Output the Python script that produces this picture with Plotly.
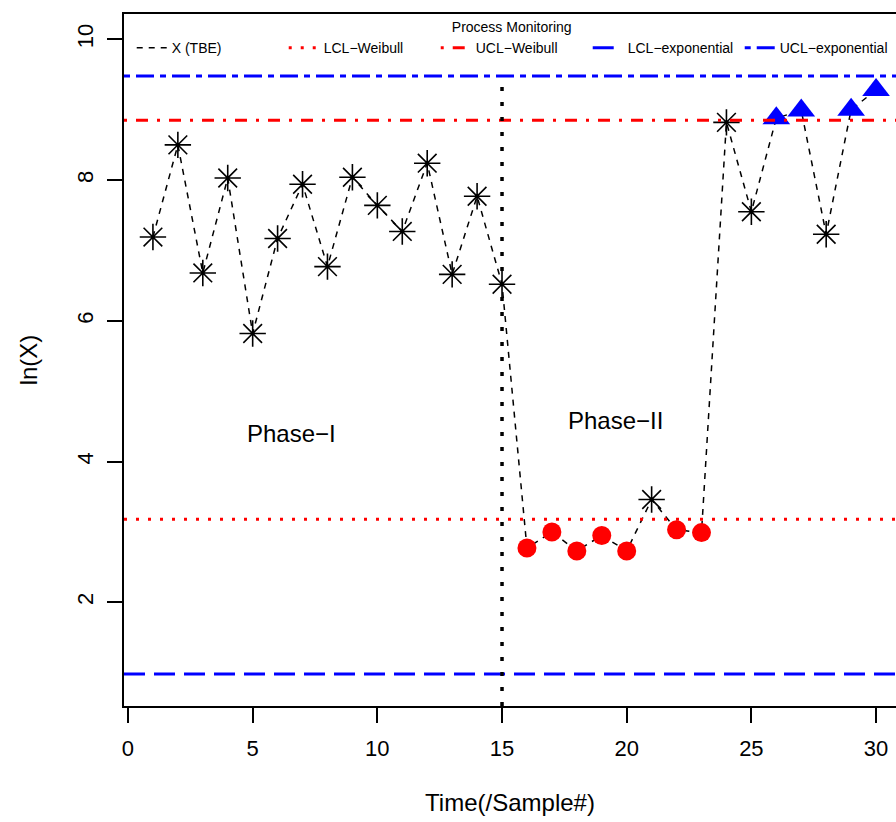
import plotly.graph_objects as go

# Sample index and log time-between-events values
sample = list(range(1, 31))
ln_x = [7.19, 8.50, 6.68, 8.03, 5.82, 7.17, 7.94, 6.77, 8.04, 7.64,
        7.27, 8.24, 6.66, 7.77, 6.52, 2.77, 3.00, 2.73, 2.95, 2.73,
        3.46, 3.03, 2.99, 8.82, 7.55, 8.88, 8.99, 7.23, 9.00, 9.28]

# Control limits
lcl_weibull = 3.18
ucl_weibull = 8.85
lcl_exponential = 0.98
ucl_exponential = 9.48

phase_split = 15
x_ticks = [0, 5, 10, 15, 20, 25, 30]
y_ticks = [2, 4, 6, 8, 10]
X_RANGE = [-0.16, 30.80]
Y_RANGE = [0.526, 10.36]

FONT = "Liberation Sans, Arial, Helvetica, sans-serif"

fig = go.Figure()

# Connecting dashed line (legend entry for the statistic)
fig.add_trace(go.Scatter(
    x=sample, y=ln_x, mode="lines", name="X (TBE)",
    line=dict(color="black", width=1.5, dash="6px,6px"),
))

# Classify points against the Weibull limits
low = [i for i, v in enumerate(ln_x) if v < lcl_weibull]
high = [i for i, v in enumerate(ln_x) if v > ucl_weibull]
mid = [i for i, v in enumerate(ln_x) if lcl_weibull <= v <= ucl_weibull]

fig.add_trace(go.Scatter(
    x=[sample[i] for i in mid], y=[ln_x[i] for i in mid], mode="markers",
    showlegend=False, hoverinfo="x+y",
    marker=dict(symbol="asterisk-open", size=22, color="black",
                line=dict(color="black", width=1.6)),
))
fig.add_trace(go.Scatter(
    x=[sample[i] for i in low], y=[ln_x[i] for i in low], mode="markers",
    showlegend=False,
    marker=dict(symbol="circle", size=19, color="#FF0000", line=dict(width=0)),
))
fig.add_trace(go.Scatter(
    x=[sample[i] for i in high], y=[ln_x[i] for i in high], mode="markers",
    showlegend=False,
    marker=dict(symbol="triangle-up", size=24, color="#0000FF", line=dict(width=0)),
))

# Horizontal control limit lines across the full plotting width
limits = [
    ("LCL\u2212Weibull", lcl_weibull, "#FF0000", "3px,9px"),
    ("UCL\u2212Weibull", ucl_weibull, "#FF0000", "3px,9px,12px,9px"),
    ("LCL\u2212exponential", lcl_exponential, "#0000FF", "21px,9px"),
    ("UCL\u2212exponential", ucl_exponential, "#0000FF", "6px,6px,18px,6px"),
]
for name, val, color, dash in limits:
    fig.add_trace(go.Scatter(
        x=X_RANGE, y=[val, val], mode="lines", name=name,
        line=dict(color=color, width=3, dash=dash), hoverinfo="name",
    ))

# Phase boundary, from the bottom of the panel up to the upper exponential limit
fig.add_shape(type="line", xref="x", yref="y", x0=phase_split, x1=phase_split,
              y0=Y_RANGE[0], y1=ucl_exponential,
              line=dict(color="black", width=3.5, dash="4px,11px"))

fig.add_annotation(x=6.54, y=4.40, text="Phase\u2212I", showarrow=False,
                   font=dict(size=24, color="black", family=FONT))
fig.add_annotation(x=19.57, y=4.59, text="Phase\u2212II", showarrow=False,
                   font=dict(size=24, color="black", family=FONT))

fig.update_layout(
    width=896, height=822,
    margin=dict(l=124, r=0, t=14, b=116),
    paper_bgcolor="white", plot_bgcolor="white",
    font=dict(family=FONT, color="black", size=22),
    legend=dict(
        orientation="h", x=0.01, xanchor="left", y=1, yanchor="top",
        entrywidth=107, itemwidth=30, bgcolor="rgba(0,0,0,0)",
        font=dict(size=14, family=FONT),
        title=dict(text="Process Monitoring", side="top center",
                   font=dict(size=14, family=FONT)),
    ),
    xaxis=dict(
        range=X_RANGE, tickvals=x_ticks, showgrid=False, zeroline=False,
        showline=True, linecolor="black", linewidth=1.5, mirror=True,
        ticks="outside", ticklen=15, tickwidth=1.5, tickcolor="black",
        ticklabelstandoff=7,
        title=dict(text="Time(/Sample#)", standoff=34, font=dict(size=24)),
    ),
    yaxis=dict(
        range=Y_RANGE, tickvals=y_ticks, showgrid=False, zeroline=False,
        showline=True, linecolor="black", linewidth=1.5,
        ticks="outside", ticklen=15, tickwidth=1.5, tickcolor="black",
        tickangle=-90, ticklabelstandoff=5,
        title=dict(text="ln(X)", standoff=29, font=dict(size=24)),
    ),
)

fig.write_html("out.html")
